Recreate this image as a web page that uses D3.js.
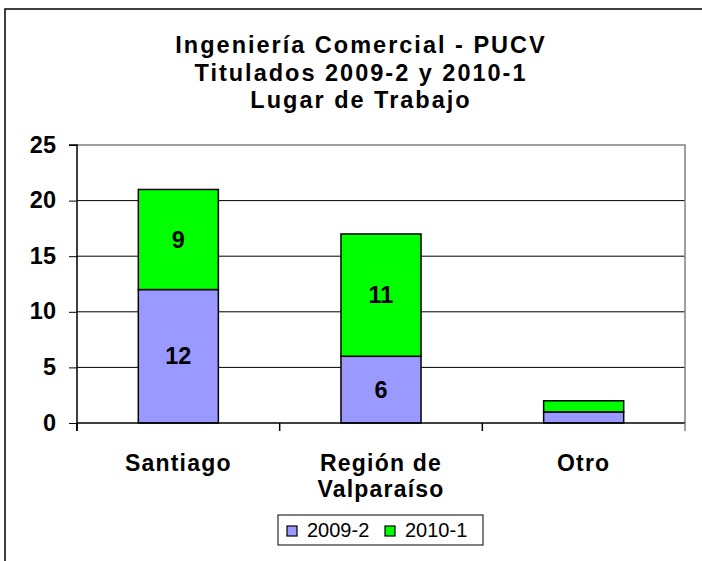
<!DOCTYPE html>
<html lang="es">
<head>
    <meta charset="UTF-8">
    <title>Lugar de Trabajo</title>
    <script src="https://d3js.org/d3.v7.min.js"></script>
    <style>
        body { margin: 0; background: #fff; }
        svg { font-family: "Liberation Sans", Arial, sans-serif; }
        .title { font-size: 23.5px; font-weight: bold; letter-spacing: 2px; }
        .ytick text { font-size: 23.5px; font-weight: bold; }
        .cat { font-size: 23px; font-weight: bold; letter-spacing: 1.2px; }
        .val { font-size: 23.5px; font-weight: bold; }
        .legend text { font-size: 20px; }
    </style>
</head>
<body>
    <script>
        // data
        var categories = ["Santiago", "Región de\nValparaíso", "Otro"];
        var series = ["2009-2", "2010-1"];
        var values2009 = [12, 6, 1];
        var values2010 = [9, 11, 1];
        var yTicks = [0, 5, 10, 15, 20, 25];
        var colors = ["#9999ff", "#00ff00"];
        var titleLines = ["Ingeniería Comercial - PUCV", "Titulados 2009-2 y 2010-1", "Lugar de Trabajo"];

        var width = 702, height = 561;
        var plot = { left: 77, right: 685, top: 145, bottom: 423 };

        var svg = d3.select("body").append("svg")
            .attr("width", width)
            .attr("height", height);

        // outer chart border
        svg.append("rect")
            .attr("x", 5).attr("y", 9)
            .attr("width", width + 10).attr("height", height + 10)
            .attr("fill", "#fff")
            .attr("stroke", "#000")
            .attr("stroke-width", 1.5);

        // title
        svg.selectAll(".title")
            .data(titleLines)
            .enter().append("text")
            .attr("class", "title")
            .attr("x", 361)
            .attr("y", (d, i) => 53 + i * 27.5)
            .attr("text-anchor", "middle")
            .text(d => d);

        var x = d3.scaleBand()
            .domain(categories)
            .range([plot.left, plot.right])
            .paddingInner(0.605)
            .paddingOuter(0.3025);

        var y = d3.scaleLinear()
            .domain([0, 25])
            .range([plot.bottom, plot.top]);

        // gridlines
        svg.selectAll(".grid")
            .data(yTicks.filter(d => d > 0 && d < 25))
            .enter().append("line")
            .attr("x1", plot.left).attr("x2", plot.right)
            .attr("y1", d => y(d)).attr("y2", d => y(d))
            .attr("stroke", "#000")
            .attr("stroke-width", 1);

        // plot border top/right (grey)
        svg.append("path")
            .attr("d", `M${plot.left},${y(25)}H${plot.right}V${plot.bottom}`)
            .attr("fill", "none")
            .attr("stroke", "#808080")
            .attr("stroke-width", 1.5);

        // stacked data
        var rows = categories.map((c, i) => ({ cat: c, "2009-2": values2009[i], "2010-1": values2010[i] }));
        var stacked = d3.stack().keys(series)(rows);

        var layers = svg.selectAll(".layer")
            .data(stacked)
            .enter().append("g")
            .attr("fill", (d, i) => colors[i]);

        layers.selectAll("rect")
            .data(d => d)
            .enter().append("rect")
            .attr("x", d => x(d.data.cat))
            .attr("width", x.bandwidth())
            .attr("y", d => y(d[1]))
            .attr("height", d => y(d[0]) - y(d[1]))
            .attr("stroke", "#000")
            .attr("stroke-width", 1.5);

        // value labels (only where segment is tall enough)
        stacked.forEach(function (layer) {
            layer.forEach(function (d) {
                var v = d[1] - d[0];
                if (v < 3) return;
                svg.append("text")
                    .attr("class", "val")
                    .attr("x", x(d.data.cat) + x.bandwidth() / 2)
                    .attr("y", (y(d[0]) + y(d[1])) / 2 + 8)
                    .attr("text-anchor", "middle")
                    .text(v);
            });
        });

        // y axis
        var yAxis = svg.append("g")
            .attr("transform", `translate(${plot.left},0)`)
            .call(d3.axisLeft(y).tickValues(yTicks).tickSize(8).tickPadding(13));
        yAxis.select(".domain").attr("stroke", "#000").attr("stroke-width", 1.5)
            .attr("d", `M-8,${y(25)}H0V${plot.bottom + 8}`);
        yAxis.selectAll(".tick").attr("class", "ytick");
        yAxis.selectAll("line").attr("stroke", "#000");
        yAxis.selectAll("text").attr("fill", "#000").attr("dy", "0.3em");

        // x axis line with category boundary ticks
        svg.append("line")
            .attr("x1", plot.left).attr("x2", plot.right)
            .attr("y1", plot.bottom).attr("y2", plot.bottom)
            .attr("stroke", "#000").attr("stroke-width", 1.5);
        var step = x.step();
        svg.selectAll(".xtick")
            .data(d3.range(categories.length + 1))
            .enter().append("line")
            .attr("x1", i => plot.left + i * step)
            .attr("x2", i => plot.left + i * step)
            .attr("y1", plot.bottom).attr("y2", plot.bottom + 8)
            .attr("stroke", i => i === categories.length ? "#808080" : "#000")
            .attr("stroke-width", 1.5);

        // category labels
        categories.forEach(function (c) {
            var cx = x(c) + x.bandwidth() / 2;
            var t = svg.append("text")
                .attr("class", "cat")
                .attr("x", cx)
                .attr("y", 471)
                .attr("text-anchor", "middle");
            c.split("\n").forEach(function (line, i) {
                t.append("tspan")
                    .attr("x", cx)
                    .attr("dy", i === 0 ? 0 : 26)
                    .text(line);
            });
        });

        // legend
        var legend = svg.append("g").attr("class", "legend");
        legend.append("rect")
            .attr("x", 278).attr("y", 515)
            .attr("width", 205).attr("height", 30)
            .attr("fill", "#fff").attr("stroke", "#000").attr("stroke-width", 1);
        var legendX = [287, 385];
        series.forEach(function (s, i) {
            legend.append("rect")
                .attr("x", legendX[i]).attr("y", 526)
                .attr("width", 10).attr("height", 10)
                .attr("fill", colors[i]).attr("stroke", "#000").attr("stroke-width", 1.2);
            legend.append("text")
                .attr("x", legendX[i] + 20).attr("y", 537)
                .text(s);
        });
    </script>
</body>
</html>
